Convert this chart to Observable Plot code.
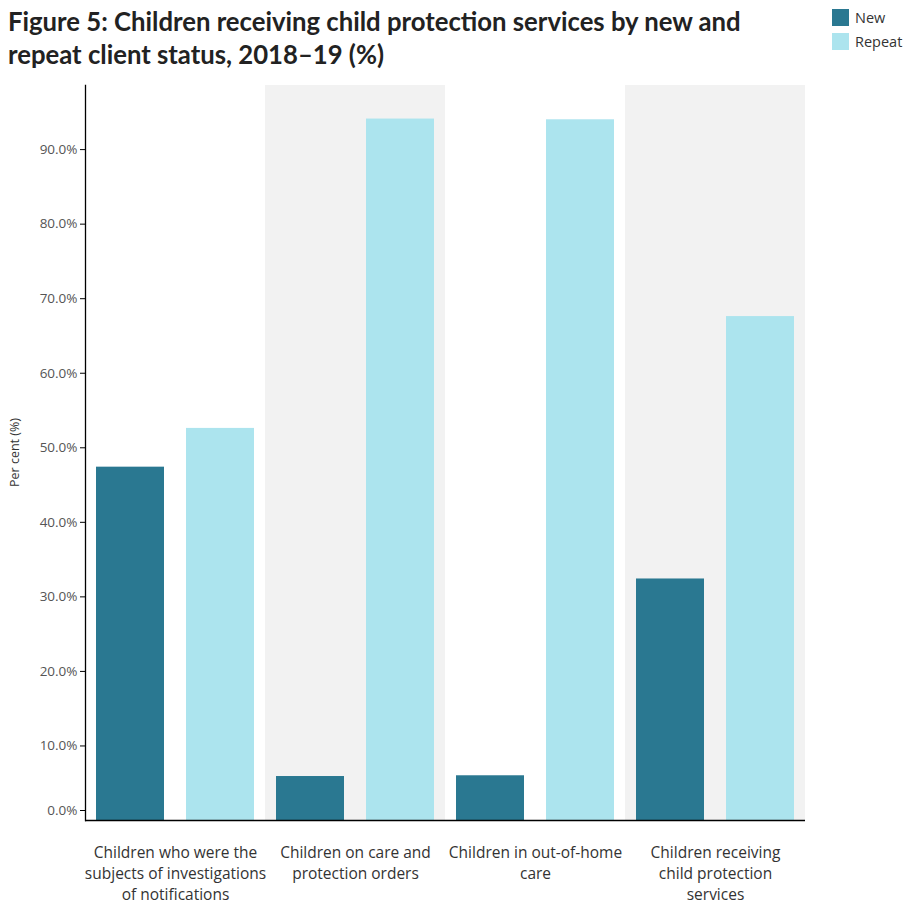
<!DOCTYPE html>
<html>
<head>
<meta charset="utf-8">
<script src="https://cdn.jsdelivr.net/npm/d3@7"></script>
<script src="https://cdn.jsdelivr.net/npm/@observablehq/plot@0.6"></script>
<style>
  html, body { margin: 0; padding: 0; background: #fff; }
  #wrap { position: relative; width: 906px; height: 906px; overflow: hidden; }
  #title { position: absolute; left: 8px; top: 5px; font-family: Lato, sans-serif; font-weight: 700;
           font-size: 25.7px; line-height: 33px; color: #222; width: 800px; }
  #legend { position: absolute; left: 832px; top: 5px; font-family: "Open Sans", sans-serif; font-size: 14.5px; color: #333; }
  .li { display: flex; align-items: center; height: 24px; }
  .sw { width: 17px; height: 17px; margin-right: 6px; }
  #chart { position: absolute; left: 0; top: 75px; }
</style>
</head>
<body>
<div id="wrap">
  <div id="title">Figure 5: Children receiving child protection services by new and<br>repeat client status, 2018–19 (%)</div>
  <div id="legend"></div>
  <div id="chart"></div>
</div>
<script>
const categories = [
  "Children who were the\nsubjects of investigations\nof notifications",
  "Children on care and\nprotection orders",
  "Children in out-of-home\ncare",
  "Children receiving\nchild protection\nservices"
];
const statuses = ["New", "Repeat"];
const newValues = [47.4, 5.9, 6.0, 32.4];
const repeatValues = [52.6, 94.1, 94.0, 67.6];
const yTicks = [0, 10, 20, 30, 40, 50, 60, 70, 80, 90];
const colors = ["#2a7891", "#ace4ee"];
const shaded = [categories[1], categories[3]];

const data = categories.flatMap((c, i) => [
  {category: c, status: "New", value: newValues[i]},
  {category: c, status: "Repeat", value: repeatValues[i]}
]);

const fmt = d => d.toFixed(1) + "%";

const chart = Plot.plot({
  width: 906,
  height: 831,
  marginTop: 10,
  marginLeft: 83,
  marginRight: 100,
  marginBottom: 86,
  style: {fontFamily: "'Open Sans', sans-serif", background: "transparent"},
  fx: {domain: categories, padding: 0},
  x: {domain: statuses, paddingInner: 0.25, paddingOuter: 0.12, axis: null},
  y: {domain: [0, 98.6]},
  color: {domain: statuses, range: colors},
  marks: [
    Plot.rect(shaded, {fx: d => d, fill: "#f2f2f2"}),
    Plot.barY(data, {fx: "category", x: "status", y: "value", fill: "status"}),
    Plot.ruleY([0], {stroke: "#000", strokeWidth: 1.3}),
    Plot.frame({anchor: "left", facetAnchor: "left", stroke: "#000", strokeWidth: 1.3}),
    Plot.axisY(yTicks.slice(1), {tickSize: 5, tickFormat: fmt, fontSize: 13.5, color: "#555", stroke: "#000", tickPadding: 3, label: null}),
    Plot.axisY([0], {tickSize: 5, tickFormat: fmt, fontSize: 13.5, color: "#555", stroke: "#000", tickPadding: 3, dy: -10, label: null}),
    Plot.axisFx({anchor: "bottom", tickSize: 0, tickPadding: 22, fontSize: 15.5, lineHeight: 1.38, color: "#333", label: null, textAnchor: "middle"})
  ]
});

document.getElementById("chart").appendChild(chart);

// y-axis title
const svg = d3.select(chart);
svg.append("text")
  .attr("transform", `translate(19, ${(10 + 745) / 2}) rotate(-90)`)
  .attr("text-anchor", "middle")
  .attr("font-size", 12.5)
  .attr("fill", "#333")
  .text("Per cent (%)");

const legend = d3.select("#legend");
statuses.forEach((s, i) => {
  const row = legend.append("div").attr("class", "li");
  row.append("div").attr("class", "sw").style("background", colors[i]);
  row.append("span").text(s);
});
</script>
</body>
</html>
